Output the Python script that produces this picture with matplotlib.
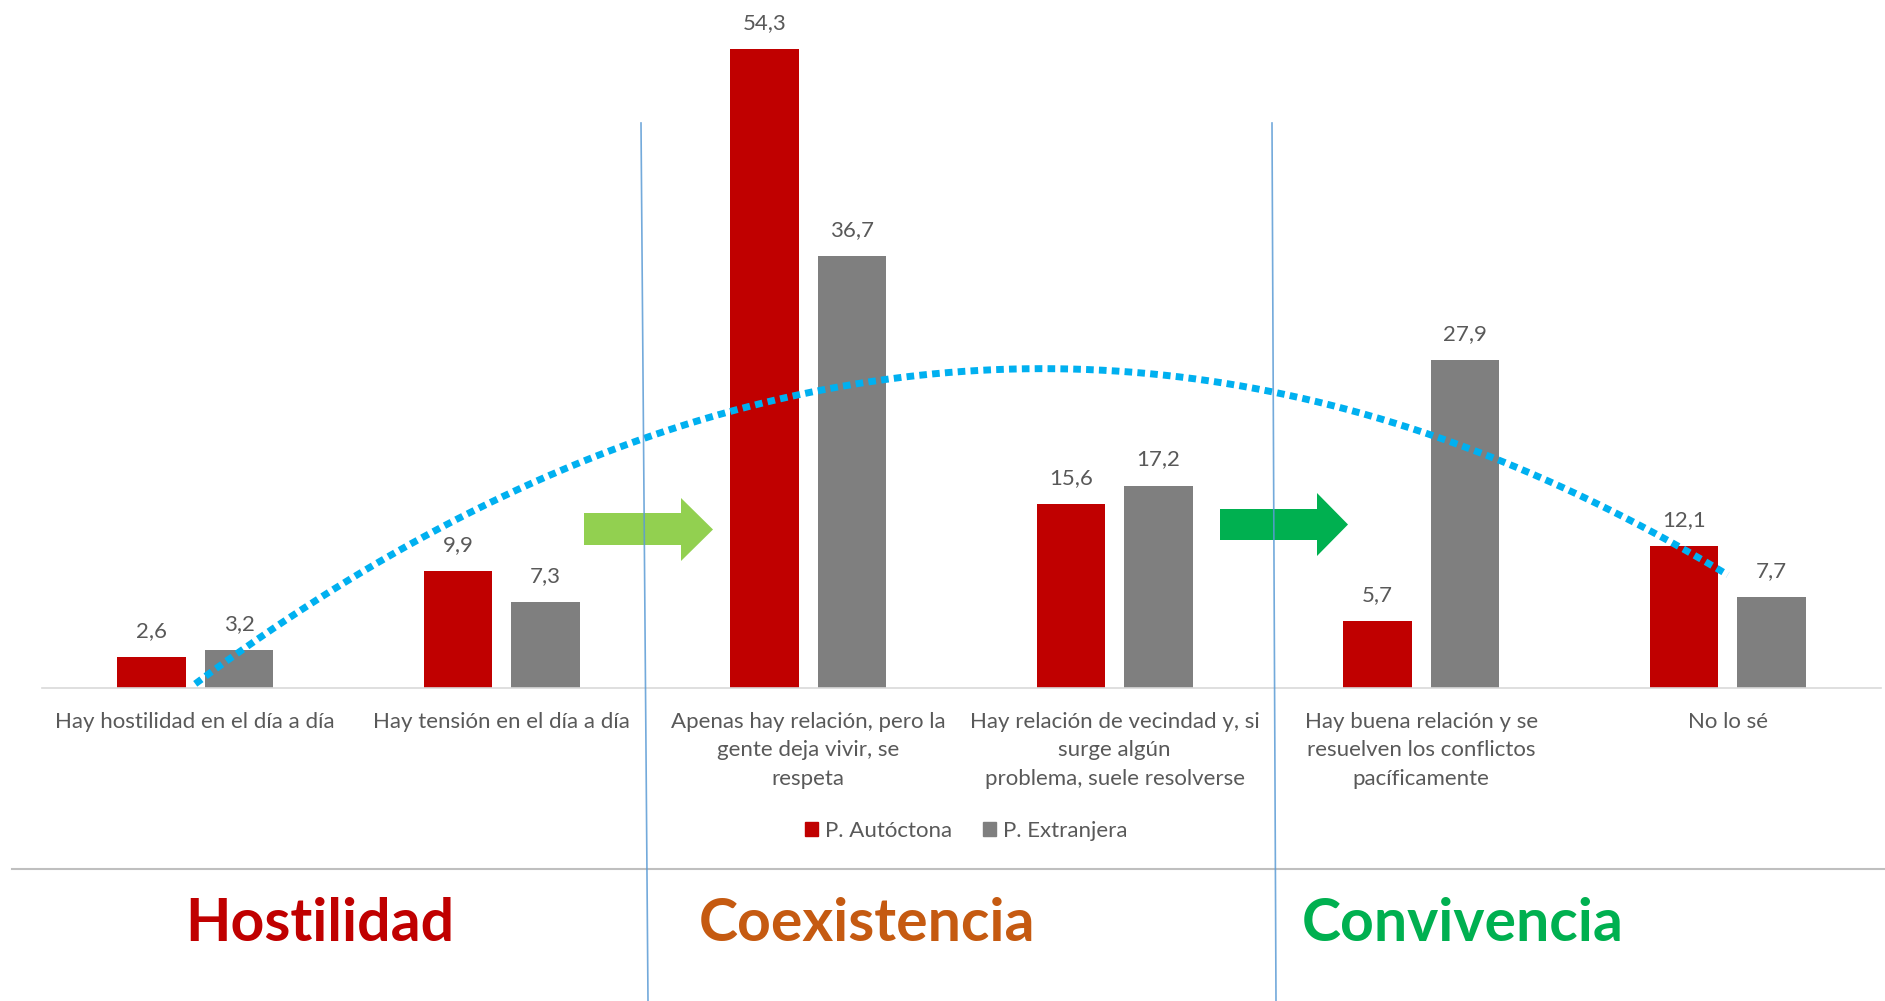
import matplotlib
matplotlib.use("Agg")
import matplotlib.pyplot as plt
import numpy as np
from matplotlib.lines import Line2D
from matplotlib.patches import Patch, Polygon

W, H = 1885, 1001

categorias = [
    "Hay hostilidad en el día a día",
    "Hay tensión en el día a día",
    "Apenas hay relación, pero la\ngente deja vivir, se\nrespeta",
    "Hay relación de vecindad y, si\nsurge algún\nproblema, suele resolverse",
    "Hay buena relación y se\nresuelven los conflictos\npacíficamente",
    "No lo sé",
]
autoctona = [2.6, 9.9, 54.3, 15.6, 5.7, 12.1]
extranjera = [3.2, 7.3, 36.7, 17.2, 27.9, 7.7]
series_nombres = ["P. Autóctona", "P. Extranjera"]
bloques = ["Hostilidad", "Coexistencia", "Convivencia"]

ROJO = "#C00000"
GRIS = "#7F7F7F"
TXT = "#595959"
FUENTE = ["Lato", "DejaVu Sans"]

plt.rcParams["font.family"] = FUENTE


def fx(px):
    return px / W


def fy(py):
    return 1 - py / H


fig = plt.figure(figsize=(W / 100, H / 100), dpi=100)
ax = fig.add_axes([fx(42), fy(688), fx(1881) - fx(42), fy(40.7) - fy(688)])

x = np.arange(len(categorias))
ancho = 0.2235
off = 0.143
b1 = ax.bar(x - off, autoctona, ancho, color=ROJO, zorder=2)
b2 = ax.bar(x + off, extranjera, ancho, color=GRIS, zorder=2)

for barras, vals in ((b1, autoctona), (b2, extranjera)):
    for b, v in zip(barras, vals):
        ax.annotate(f"{v:.1f}".replace(".", ","),
                    (b.get_x() + b.get_width() / 2, v),
                    xytext=(0, 26), textcoords="offset pixels",
                    ha="center", va="center", fontsize=16, color=TXT)

# línea de tendencia polinómica (orden 2) de la serie extranjera
coef = np.polyfit(x, extranjera, 2)
xt = np.linspace(x[0], x[-1], 300)
ax.plot(xt, np.polyval(coef, xt), color="#00B0F0", lw=5,
        linestyle=(0, (1.1, 0.75)), dash_capstyle="butt", zorder=4)

ax.set_xlim(-0.5, 5.5)
ax.set_ylim(0, 55)
ax.set_yticks([])
for s in ("top", "right", "left"):
    ax.spines[s].set_visible(False)
ax.spines["bottom"].set_color("#D9D9D9")
ax.spines["bottom"].set_linewidth(1.2)
ax.set_xticks(x)
ax.set_xticklabels(categorias, fontsize=16, color=TXT, linespacing=1.55)
ax.tick_params(axis="x", length=0, pad=17)
for lab in ax.get_xticklabels():
    lab.set_multialignment("center")
    lab.set_verticalalignment("top")

handles = [Patch(color=ROJO), Patch(color=GRIS)]
fig.legend(handles, series_nombres, loc="center", bbox_to_anchor=(fx(966), fy(831)),
           ncol=2, frameon=False, fontsize=16, labelcolor=TXT,
           handlelength=0.6, handleheight=0.6, handletextpad=0.3, columnspacing=1.4)

# separadores
fig.add_artist(Line2D([fx(12), fx(1885)], [fy(869), fy(869)], color="#BFBFBF", lw=1.5))
for xa, xb in ((641, 648), (1272, 1276)):
    fig.add_artist(Line2D([fx(xa), fx(xb)], [fy(123), fy(1001)],
                          color="#5B9BD5", lw=1.2, alpha=0.85, zorder=5))

# flechas
def flecha(x0, xb, xtip, yt, yb, ht, hb, color):
    ym = (ht + hb) / 2
    pts = [(x0, yt), (xb, yt), (xb, ht), (xtip, ym), (xb, hb), (xb, yb), (x0, yb)]
    fig.add_artist(Polygon([(fx(a), fy(b)) for a, b in pts], closed=True,
                           facecolor=color, edgecolor="none", transform=fig.transFigure, zorder=3))

flecha(584, 681, 713, 513, 545, 498, 561, "#92D050")
flecha(1220, 1317, 1348, 509, 540, 493, 556, "#00B050")

colores_bloque = [ROJO, "#C55A11", "#00B050"]
centros = [320, 867, 1463]
for txt, c, cx in zip(bloques, colores_bloque, centros):
    fig.text(fx(cx), fy(941), txt, ha="center", va="baseline", fontsize=42.5,
             fontweight="bold", color=c)

fig.savefig("out.png", dpi=100)
